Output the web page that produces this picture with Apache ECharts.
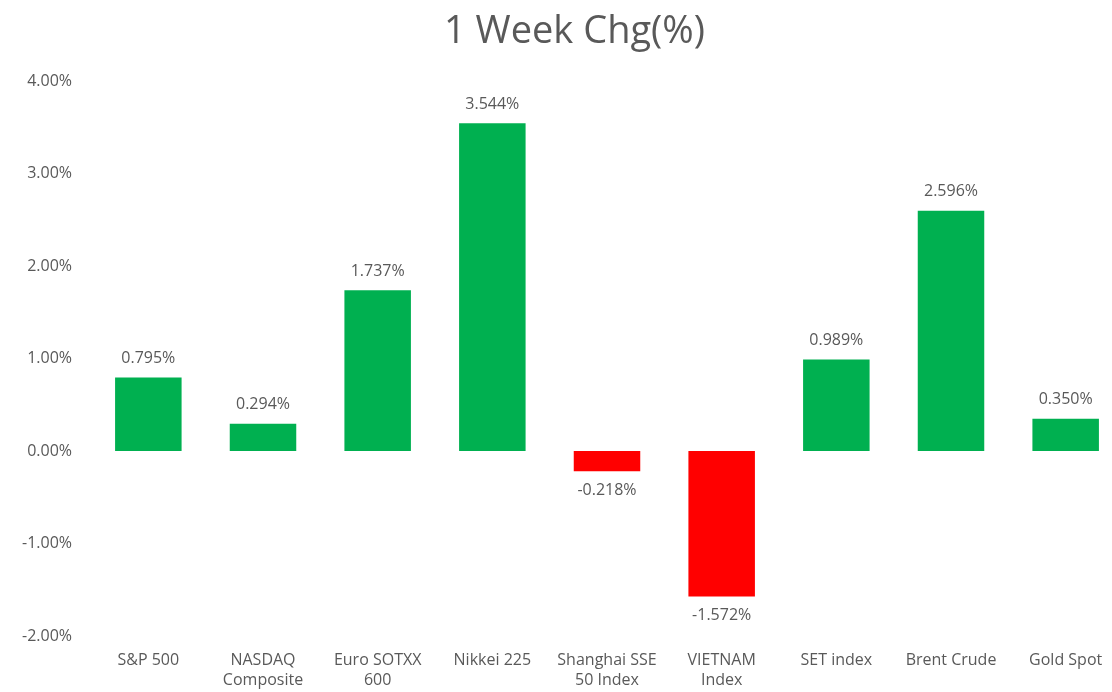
<!DOCTYPE html>
<html>
<head>
<meta charset="utf-8">
<script src="https://cdn.jsdelivr.net/npm/echarts@6/dist/echarts.min.js"></script>
<style>
  html, body { margin: 0; padding: 0; background: #fff; }
  #chart { width: 1112px; height: 692px; }
</style>
</head>
<body>
<div id="chart"></div>
<script>
// weekly change, in percent
var categories = ['S&P 500', 'NASDAQ\nComposite', 'Euro SOTXX\n600', 'Nikkei 225',
    'Shanghai SSE\n50 Index', 'VIETNAM\nIndex', 'SET index', 'Brent Crude', 'Gold Spot'];
var changes = [0.795, 0.294, 1.737, 3.544, -0.218, -1.572, 0.989, 2.596, 0.350];
var yTicks = [-2, -1, 0, 1, 2, 3, 4];

var GREEN = '#00B050', RED = '#FF0000', TXT = '#595959';
var FONT = '"Open Sans", "Noto Sans", sans-serif';

var chart = echarts.init(document.getElementById('chart'));

var barData = changes.map(function (v) {
    return {
        value: v,
        itemStyle: {color: v >= 0 ? GREEN : RED},
        label: {position: v >= 0 ? 'top' : 'bottom'}
    };
});

chart.setOption({
    animation: false,
    title: {
        text: '1 Week Chg(%)',
        left: 444,
        top: 13,
        padding: 0,
        textStyle: {color: TXT, fontSize: 38, fontWeight: 'normal', fontFamily: FONT}
    },
    grid: {left: 91, top: 81, width: 1032, height: 555, containLabel: false, outerBoundsMode: 'none'},
    xAxis: {
        type: 'category',
        data: categories,
        axisLine: {show: false},
        axisTick: {show: false},
        axisLabel: {color: TXT, fontSize: 16, fontFamily: FONT, margin: 14, lineHeight: 20, interval: 0}
    },
    yAxis: {
        type: 'value',
        min: yTicks[0],
        max: yTicks[yTicks.length - 1],
        interval: 1,
        splitLine: {show: false},
        axisLine: {show: false},
        axisTick: {show: false},
        axisLabel: {
            color: TXT, fontSize: 16, fontFamily: FONT, margin: 19,
            formatter: function (v) { return v.toFixed(2) + '%'; }
        }
    },
    series: [{
        type: 'bar',
        data: barData,
        barWidth: '58%',
        label: {
            show: true,
            color: TXT,
            fontSize: 16,
            fontFamily: FONT,
            distance: 11,
            formatter: function (p) { return p.value.toFixed(3) + '%'; }
        }
    }]
});
</script>
</body>
</html>
